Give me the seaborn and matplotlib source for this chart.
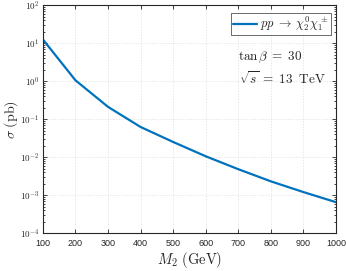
import numpy as np
import pandas as pd
import seaborn as sns
import matplotlib
matplotlib.use('Agg')
import matplotlib.pyplot as plt
from matplotlib.ticker import FixedLocator, NullFormatter

# cross section vs M2
m2 = [100, 200, 300, 400, 500, 600, 700, 800, 900, 1000]
sigma = [12.5, 1.05, 0.21, 0.062, 0.025, 0.0105, 0.0048, 0.0023, 0.0012, 0.00065]
xticks = [100, 200, 300, 400, 500, 600, 700, 800, 900, 1000]
yticks = [1e-4, 1e-3, 1e-2, 1e-1, 1e0, 1e1, 1e2]

df = pd.DataFrame({'M2': m2, 'sigma': sigma})

sns.set_style('ticks')
plt.rcParams['font.family'] = ['Liberation Sans', 'DejaVu Sans']
plt.rcParams['mathtext.fontset'] = 'cm'
plt.rcParams['xtick.direction'] = 'in'
plt.rcParams['ytick.direction'] = 'in'

fig = plt.figure(figsize=(3.46, 2.71), dpi=100)
ax = fig.add_axes([0.124, 0.140, 0.847, 0.841])

sns.lineplot(x='M2', y='sigma', data=df, color='#0072BD', linewidth=1.6,
             ax=ax, label=r'$pp\; \rightarrow\; \chi_2^0\chi_1^\pm$')

ax.set_yscale('log')
ax.set_xlim(100, 1000)
ax.set_ylim(1e-4, 1e2)
ax.set_xticks(xticks)
ax.set_xticklabels([str(t) for t in xticks])
ax.set_yticks(yticks)
ax.set_yticklabels([r'$10^{%d}$' % int(np.log10(t)) for t in yticks])
minor = [m * t for t in yticks[:-1] for m in range(2, 10)]
ax.yaxis.set_minor_locator(FixedLocator(minor))
ax.yaxis.set_minor_formatter(NullFormatter())

ax.tick_params(axis='both', which='both', top=True, right=True, labelsize=6.5,
               colors='#262626', width=0.6)
ax.tick_params(axis='both', which='major', length=3, pad=2.5)
ax.tick_params(axis='x', which='major', pad=4.5)
ax.tick_params(axis='y', which='minor', length=1.6)
for s in ax.spines.values():
    s.set_linewidth(0.8)
    s.set_color('#262626')

ax.grid(True, which='major', color='#dddddd', linestyle=(0, (2, 2)), linewidth=0.5)

ax.set_xlabel(r'$M_2\ (\mathrm{GeV})$', fontsize=10.5, labelpad=1)
ax.set_ylabel(r'$\sigma\ (\mathrm{pb})$', fontsize=10, labelpad=0)

leg = ax.legend(loc='upper right', bbox_to_anchor=(0.982, 0.965), fontsize=9,
                frameon=True, fancybox=False, handlelength=1.9,
                handletextpad=0.3, borderpad=0.15, borderaxespad=0)
leg.get_frame().set_edgecolor('#262626')
leg.get_frame().set_linewidth(0.6)

ax.text(0.666, 0.759, r'$\tan\beta\; =\; 30$', transform=ax.transAxes,
        fontsize=9.5, va='baseline')
ax.text(0.669, 0.655, r'$\sqrt{s}\; =\; 13\;\ \mathrm{TeV}$', transform=ax.transAxes,
        fontsize=9.5, va='baseline')

plt.savefig('out.png', dpi=100)
plt.close('all')
